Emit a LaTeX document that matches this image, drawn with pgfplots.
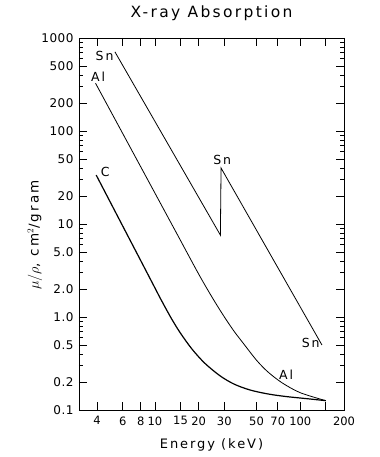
\documentclass[border=0pt]{standalone}
\usepackage{fontspec}
\setmainfont[LetterSpace=15]{DejaVu Sans}
\newfontfamily\tickfont[LetterSpace=4]{DejaVu Sans}
\newfontfamily\xtickfont{DejaVu Sans}
\usepackage{pgfplots}
\pgfplotsset{compat=1.18}

\begin{document}
\begin{tikzpicture}
\begin{loglogaxis}[
  scale only axis, width=265pt, height=372pt,
  xmin=3, xmax=200, ymin=0.1, ymax=1000,
  xtick={4,6,8,10,15,20,30,50,70,100,150,200},
  xticklabels={4,6,8,10,15,20,30,50,70,100,,200},
  minor xtick={},
  ytick={0.1,0.2,0.5,1,2,5,10,20,50,100,200,500,1000},
  yticklabels={0.1,0.2,0.5,1.0,2.0,5.0,10,20,50,100,200,500,1000},
  minor ytick={0.3,0.4,0.6,0.7,0.8,0.9,3,4,6,7,8,9,30,40,60,70,80,90,300,400,600,700,800,900},
  xtick pos=both, ytick pos=both,
  tick align=inside,
  major tick length=8pt, minor tick length=4pt,
  every tick/.style={black, line width=0.8pt},
  axis line style={line width=0.9pt},
  /pgf/number format/assume math mode=true,
  yticklabel style={font=\tickfont\fontsize{12}{12}\selectfont, xshift=-2pt},
  xticklabel style={font=\xtickfont\fontsize{11.5}{12}\selectfont, yshift=-3pt},
  title={X-ray Absorption},
  title style={font=\fontsize{15.5}{17}\selectfont, yshift=8pt},
  xlabel={Energy (keV)},
  xlabel style={font=\fontsize{13}{14}\selectfont, yshift=-7pt},
  ylabel={$\mu/\rho$, cm$^{2}$/gram},
  ylabel style={font=\fontsize{13.5}{14}\selectfont, at={(axis description cs:-0.166,0.47)}, anchor=center},
  clip=false,
]
\coordinate (SW) at (rel axis cs:0,0);
\coordinate (NE) at (rel axis cs:1,1);
% Sn
\addplot[black, line width=0.8pt] coordinates {(5.3,710) (28.2,7.6) (28.5,40) (141,0.5)};
% Al
\addplot[black, line width=0.8pt, smooth] coordinates {
(3.9,326) (8,40.9) (14,8.11) (20,2.89) (25,1.584) (30,1.004) (35,0.704) (40,0.536)
(50,0.343) (60,0.256) (75,0.196) (100,0.1534) (150,0.126)};
% C
\addplot[black, line width=1.2pt, smooth] coordinates {
(3.94,33.6) (6,9.5) (8,4.01) (10,2.05) (11,1.54) (13,0.958) (15,0.668) (18,0.451)
(22,0.319) (28,0.2335) (35,0.190) (45,0.1643) (60,0.1487) (80,0.1395) (110,0.1326) (150,0.126)};
\node[font=\fontsize{12.5}{13}\selectfont] at (axis cs:4.5,640) {Sn};
\node[font=\fontsize{12.5}{13}\selectfont] at (axis cs:4.06,384) {Al};
\node[font=\fontsize{12.5}{13}\selectfont] at (axis cs:4.55,36) {C};
\node[font=\fontsize{12.5}{13}\selectfont] at (axis cs:29,49) {Sn};
\node[font=\fontsize{12.5}{13}\selectfont] at (axis cs:118,0.53) {Sn};
\node[font=\fontsize{12.5}{13}\selectfont] at (axis cs:80,0.238) {Al};
\end{loglogaxis}
\path ([shift={(-79pt,-47pt)}]SW) rectangle ([shift={(36pt,38pt)}]NE);
\end{tikzpicture}
\end{document}
